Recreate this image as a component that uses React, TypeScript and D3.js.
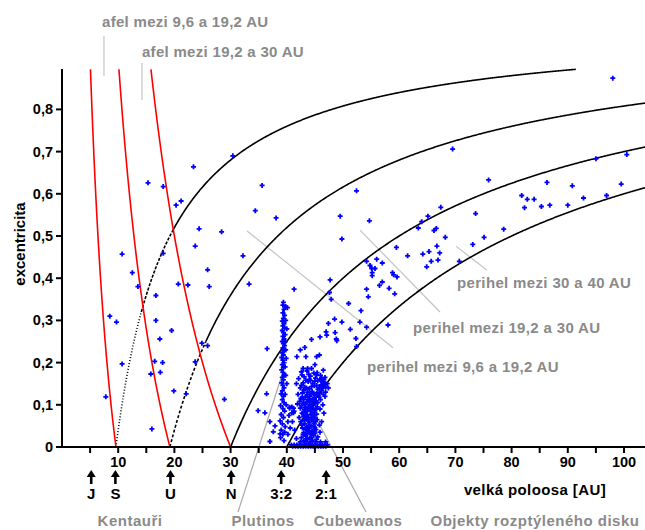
import React from 'react';
import * as d3 from 'd3';

// ---------- data ----------
const xTickValues = [10, 20, 30, 40, 50, 60, 70, 80, 90, 100];
const xMinorTicks = [5, 15, 25, 35, 45, 55, 65, 75, 85, 95, 105];
const yTickValues = [0, 0.1, 0.2, 0.3, 0.4, 0.5, 0.6, 0.7, 0.8];
const yTickLabels = ['0', '0,1', '0,2', '0,3', '0,4', '0,5', '0,6', '0,7', '0,8'];

const perihelionLimits = [9.6, 19.2, 30, 40];
const aphelionLimits = [9.6, 19.2, 30];

const markerNames = ['J', 'S', 'U', 'N', '3:2', '2:1'];
const markerA = [5.2, 9.5, 19.3, 30.1, 39.0, 47.0];

const centaurs: [number, number][] = [
  [23.4, 0.664], [30.4, 0.690], [15.3, 0.626], [18.0, 0.617], [20.3, 0.573], [21.2, 0.583],
  [35.6, 0.620], [34.4, 0.560], [38.1, 0.543], [24.4, 0.517], [28.4, 0.510], [23.7, 0.476],
  [10.7, 0.457], [18.0, 0.459], [32.2, 0.453], [12.5, 0.413], [25.9, 0.420], [13.5, 0.380],
  [20.7, 0.386], [22.4, 0.384], [26.2, 0.380], [33.3, 0.386], [41.3, 0.374], [16.7, 0.359],
  [8.5, 0.310], [9.7, 0.296], [16.7, 0.300], [19.5, 0.276], [17.4, 0.256], [24.9, 0.246],
  [25.9, 0.240], [36.5, 0.233], [10.7, 0.197], [16.5, 0.203], [17.9, 0.200], [23.7, 0.202],
  [15.8, 0.173], [17.5, 0.177], [19.9, 0.133], [22.1, 0.126], [7.8, 0.119], [28.9, 0.113],
  [36.4, 0.126], [34.9, 0.086], [16.0, 0.043],
];

const scatteredDisk: [number, number][] = [
  [49.5, 0.547], [54.7, 0.536], [52.4, 0.607], [69.5, 0.706], [67.4, 0.568], [65.1, 0.547],
  [64.0, 0.534], [63.4, 0.519], [66.6, 0.518], [66.2, 0.513], [68.2, 0.497], [73.6, 0.553],
  [49.8, 0.493], [59.5, 0.473], [66.7, 0.476], [73.1, 0.480], [75.1, 0.497], [64.2, 0.457],
  [65.3, 0.463], [67.2, 0.460], [61.5, 0.453], [65.7, 0.440], [66.9, 0.443], [64.9, 0.427],
  [70.7, 0.440], [54.2, 0.440], [56.0, 0.445], [57.0, 0.436], [54.8, 0.430], [55.1, 0.423],
  [55.7, 0.423], [55.2, 0.413], [55.2, 0.406], [58.8, 0.413], [59.0, 0.408], [59.6, 0.403],
  [57.0, 0.391], [56.5, 0.383], [54.2, 0.374], [58.2, 0.376], [59.2, 0.363], [54.5, 0.356],
  [47.7, 0.396], [47.9, 0.350], [51.0, 0.340], [53.2, 0.323], [48.5, 0.303], [49.8, 0.296],
  [53.0, 0.296], [54.2, 0.284], [58.0, 0.289], [51.3, 0.279], [48.6, 0.271], [48.8, 0.256],
  [52.3, 0.257], [52.4, 0.238], [98.0, 0.874], [95.0, 0.683], [100.5, 0.693], [75.9, 0.633],
  [86.3, 0.627], [90.8, 0.619], [99.5, 0.623], [81.8, 0.596], [82.8, 0.587], [84.0, 0.587],
  [82.3, 0.567], [85.3, 0.570], [86.8, 0.573], [90.0, 0.573], [92.8, 0.590], [96.9, 0.596],
  [78.6, 0.516], [47.6, 0.366],
];

const hotClassical: [number, number][] = [
  [47.4, 0.293], [47.0, 0.273], [47.1, 0.265], [48.9, 0.252], [44.4, 0.255], [45.9, 0.261],
  [42.4, 0.230], [43.2, 0.236], [45.3, 0.214], [45.8, 0.218], [41.8, 0.214], [43.4, 0.214],
  [42.7, 0.171], [45.3, 0.171], [46.2, 0.163], [44.0, 0.160], [46.8, 0.152], [36.1, 0.081],
  [37.0, 0.060], [37.9, 0.050], [37.6, 0.036], [38.8, 0.031], [37.0, 0.013], [40.5, 0.094],
  [41.2, 0.092], [40.9, 0.081],
];

const plutinos: [number, number][] = [
  [39.4, 0.343], [39.3, 0.336], [39.8, 0.333], [40.1, 0.330], [39.5, 0.326], [39.3, 0.318],
  [39.6, 0.312], [39.4, 0.305], [39.2, 0.298], [39.5, 0.292], [39.3, 0.287], [39.6, 0.282],
  [39.2, 0.276], [39.4, 0.271], [39.7, 0.266], [39.3, 0.262], [39.5, 0.256], [39.2, 0.250],
  [39.4, 0.245], [39.6, 0.240], [39.3, 0.235], [39.5, 0.229], [39.2, 0.223], [39.4, 0.218],
  [39.1, 0.212], [39.3, 0.206], [39.5, 0.200], [39.2, 0.195], [39.4, 0.189], [39.1, 0.183],
  [39.3, 0.177], [39.5, 0.171], [39.2, 0.165], [39.4, 0.159], [39.1, 0.152], [39.3, 0.146],
  [39.5, 0.140], [39.2, 0.133], [39.0, 0.126], [39.4, 0.120], [39.2, 0.112], [39.5, 0.105],
  [38.9, 0.098], [39.3, 0.091], [39.6, 0.085], [39.0, 0.077], [39.4, 0.070], [38.8, 0.062],
  [39.2, 0.055], [39.7, 0.048], [39.0, 0.040], [39.3, 0.030], [38.9, 0.022], [39.5, 0.015],
  [40.0, 0.280], [39.9, 0.210], [40.0, 0.150], [39.9, 0.100], [40.2, 0.060],
  [39.8, 0.300], [39.7, 0.250], [39.8, 0.230], [39.7, 0.190], [39.8, 0.170], [39.7, 0.125],
  [39.6, 0.035],
];

const cubewanos: [number, number][] = [
  [40.8, 0.005], [41.3, 0.005], [41.8, 0.005], [42.2, 0.005], [42.7, 0.005], [43.1, 0.005],
  [43.6, 0.005], [44.0, 0.005], [44.5, 0.005], [44.9, 0.005], [45.4, 0.005], [45.8, 0.005],
  [46.3, 0.005], [46.7, 0.005], [47.2, 0.005],
  [41.05, 0.002], [41.55, 0.002], [42.0, 0.002], [42.45, 0.002], [42.9, 0.002], [43.35, 0.002],
  [43.8, 0.002], [44.25, 0.002], [44.7, 0.002], [45.15, 0.002], [45.6, 0.002], [46.05, 0.002],
  [46.5, 0.002], [46.95, 0.002],
  [42.4, 0.012], [43.3, 0.012], [44.2, 0.012], [45.1, 0.012], [46.0, 0.012], [46.9, 0.012],
  [42.6, 0.022], [43.4, 0.026], [44.1, 0.021], [44.8, 0.028], [45.5, 0.024], [43.0, 0.034],
  [43.8, 0.038], [44.5, 0.036], [45.2, 0.041], [42.8, 0.045], [43.6, 0.048], [44.3, 0.050],
  [45.0, 0.046], [45.8, 0.052], [43.2, 0.055], [44.0, 0.058], [44.7, 0.061], [42.5, 0.060],
  [45.4, 0.065], [43.5, 0.066],
  [43.0, 0.015], [43.7, 0.018], [44.5, 0.016], [45.3, 0.018], [42.9, 0.030], [43.6, 0.031],
  [44.3, 0.030], [45.0, 0.033], [43.3, 0.042], [44.0, 0.044], [44.7, 0.040], [42.7, 0.052],
  [43.9, 0.050], [44.9, 0.055], [43.1, 0.063], [43.8, 0.062], [44.4, 0.066], [45.1, 0.060],
  [43.45, 0.020], [44.15, 0.034], [44.85, 0.048], [43.35, 0.072], [44.05, 0.090], [44.85, 0.082],
  [43.25, 0.101], [43.95, 0.110], [44.75, 0.126], [45.55, 0.137], [43.05, 0.135], [44.35, 0.096],
  [42.75, 0.118], [45.25, 0.090], [45.75, 0.118], [46.35, 0.140], [44.45, 0.022], [43.85, 0.006],
  [42.2, 0.070], [43.0, 0.072], [43.9, 0.070], [44.6, 0.074], [45.3, 0.078], [42.7, 0.080],
  [43.4, 0.083], [44.2, 0.085], [45.0, 0.088], [45.9, 0.090], [42.4, 0.092], [43.2, 0.094],
  [43.9, 0.097], [44.7, 0.099], [41.9, 0.102], [42.9, 0.104], [43.6, 0.107], [44.4, 0.108],
  [45.2, 0.110], [46.0, 0.112], [42.5, 0.115], [43.3, 0.118], [44.1, 0.120], [44.9, 0.117],
  [45.6, 0.122],
  [42.9, 0.078], [43.6, 0.076], [44.3, 0.078], [45.0, 0.070], [43.1, 0.088], [43.7, 0.090],
  [44.5, 0.092], [45.4, 0.095], [42.6, 0.098], [44.1, 0.101], [45.0, 0.103], [43.0, 0.112],
  [43.8, 0.113], [44.6, 0.114], [45.5, 0.105], [42.3, 0.108],
  [42.0, 0.125], [42.8, 0.128], [43.7, 0.130], [44.5, 0.132], [45.3, 0.128], [46.2, 0.134],
  [46.9, 0.130], [42.4, 0.140], [43.2, 0.142], [44.0, 0.138], [44.9, 0.145], [45.8, 0.141],
  [46.6, 0.146], [41.7, 0.150], [42.9, 0.152], [43.8, 0.155], [44.6, 0.151], [45.5, 0.157],
  [46.3, 0.154], [47.2, 0.150],
  [43.6, 0.124], [44.3, 0.126], [45.0, 0.124], [45.8, 0.127], [46.5, 0.125], [43.5, 0.140],
  [44.4, 0.143], [45.3, 0.146], [46.1, 0.147], [46.9, 0.142], [42.6, 0.146], [44.2, 0.158],
  [45.0, 0.156], [45.9, 0.160], [43.4, 0.158], [46.6, 0.160], [44.8, 0.175], [43.9, 0.172],
  [42.1, 0.162], [43.1, 0.166], [44.2, 0.168], [45.1, 0.163], [46.0, 0.170], [46.8, 0.165],
  [42.6, 0.178], [43.6, 0.180], [45.4, 0.176], [46.5, 0.182], [42.9, 0.186], [43.7, 0.186],
  [44.4, 0.186], [45.0, 0.195],
  [40.2, 0.030], [40.6, 0.045], [41.0, 0.060], [40.4, 0.075], [41.3, 0.085], [40.9, 0.095],
  [41.4, 0.040], [41.7, 0.020], [40.5, 0.092], [41.2, 0.081], [46.4, 0.100], [46.8, 0.120],
  [47.4, 0.140], [46.2, 0.060], [46.6, 0.080], [45.9, 0.035],
];

// annotation texts (Czech)
const afelLabels = ['afel mezi 9,6 a 19,2 AU', 'afel mezi 19,2 a 30 AU'];
const perihelLabels = ['perihel mezi 9,6 a 19,2 AU', 'perihel mezi 19,2 a 30 AU', 'perihel mezi 30 a 40 AU'];
const groupLabels = ['Kentauři', 'Plutinos', 'Cubewanos', 'Objekty rozptýleného disku'];

// ---------- layout (data-space anchors for annotations) ----------
const afelText = [[7.12, 0.995], [14.23, 0.924]];
const afelLines = [[[7.47, 0.974], [7.47, 0.879]], [[14.23, 0.910], [14.23, 0.822]]];
const perihelText = [[54.27, 0.178], [62.46, 0.270], [70.28, 0.377]];
const perihelLines = [
  [[32.92, 0.512], [58.9, 0.235]],
  [[53.02, 0.514], [67.26, 0.320]],
  [[70.1, 0.476], [75.62, 0.419]],
];
const groupTextA = [12.1, 35.77, 52.67, 84.16];
const groupLines = [
  [[31.32, -0.154], [38.97, 0.1635]],
  [[45.2, 0.0687], [54.09, -0.154]],
];

const FONT = "'Liberation Sans', Arial, Helvetica, sans-serif";
const GRAY_TEXT = '#8a8a8a';
const GRAY_LINE = '#c4c4c4';
const EMAX = 0.895;

// dash styles per perihelion curve: [eFrom, eTo, dasharray]
const periStyles: Record<string, [number, number, string | null][]> = {
  '9.6': [[0, 0.32, '1,2'], [0.32, 0.51, '3,1.5'], [0.51, EMAX, null]],
  '19.2': [[0, 0.25, '3,2'], [0.25, EMAX, null]],
  '30': [[0, EMAX, null]],
  '40': [[0, EMAX, null]],
};

export default function App() {
  const W = 645, H = 530;
  const x = d3.scaleLinear().domain([0, 100]).range([62, 624]);
  const y = d3.scaleLinear().domain([0, 0.8]).range([447, 109.4]);
  const line = d3.line<number[]>().x(d => x(d[0])).y(d => y(d[1]));

  const periSeg = (q: number, e0: number, e1: number) => {
    const a0 = q / (1 - e0);
    const a1 = Math.min(q / (1 - e1), 112);
    return d3.range(0, 601).map(i => {
      const a = a0 + (a1 - a0) * i / 600;
      return [a, 1 - q / a];
    });
  };
  const apheCurve = (Q: number) =>
    d3.range(0, 201).map(i => {
      const e = EMAX * i / 200;
      return [Q / (1 + e), e];
    });

  const cross = 'M-2.5,0H2.5M0,-2.5V2.5';
  const allPoints = [...centaurs, ...scatteredDisk, ...hotClassical, ...plutinos, ...cubewanos];

  return (
    <svg width={W} height={H} style={{ position: 'absolute', left: 0, top: 0, background: '#fff' }}
      fontFamily={FONT} fontWeight={700}>
      <defs>
        <clipPath id="plot">
          <rect x={62} y={60} width={W - 62} height={447 - 60 + 1} />
        </clipPath>
      </defs>
      <rect x={0} y={0} width={W} height={H} fill="#fff" />

      {/* annotation leader lines */}
      {afelLines.map((l, i) => (
        <path key={'al' + i} d={line(l) || ''} stroke={GRAY_LINE} strokeWidth={1.2} fill="none" />
      ))}
      {perihelLines.map((l, i) => (
        <path key={'pl' + i} d={line(l) || ''} stroke={GRAY_LINE} strokeWidth={1.2} fill="none" />
      ))}
      {groupLines.map((l, i) => (
        <path key={'gl' + i} d={line(l) || ''} stroke="#a8a8a8" strokeWidth={1.2} fill="none" />
      ))}

      {/* curves */}
      <g clipPath="url(#plot)">
        {perihelionLimits.map(q =>
          periStyles[String(q)].map(([e0, e1, dash], j) => (
            <path key={'q' + q + '-' + j} d={line(periSeg(q, e0, e1)) || ''} fill="none"
              stroke="#000" strokeWidth={1.6} strokeDasharray={dash || undefined} />
          ))
        )}
        {aphelionLimits.map(Q => (
          <path key={'Q' + Q} d={line(apheCurve(Q)) || ''} fill="none" stroke="#ff0000" strokeWidth={1.6} />
        ))}
      </g>

      {/* points */}
      <g stroke="#0000ff" strokeWidth={1.8} fill="none">
        {allPoints.map((p, i) => (
          <path key={'p' + i} d={cross} transform={`translate(${x(p[0]).toFixed(1)},${y(p[1]).toFixed(1)})`} />
        ))}
      </g>

      {/* axes */}
      <line x1={62} y1={69} x2={62} y2={448} stroke="#000" strokeWidth={2} />
      <line x1={56} y1={447} x2={W} y2={447} stroke="#000" strokeWidth={2} />
      {yTickValues.map((v, i) => (
        <g key={'yt' + i}>
          <line x1={56} x2={62} y1={y(v)} y2={y(v)} stroke="#000" strokeWidth={2} />
          <text x={53} y={y(v) + 5} textAnchor="end" fontSize={14.5} fill="#000">{yTickLabels[i]}</text>
        </g>
      ))}
      {xMinorTicks.concat(xTickValues).map((v, i) => (
        <line key={'xt' + i} x1={x(v)} x2={x(v)} y1={447} y2={453} stroke="#000" strokeWidth={2} />
      ))}
      {xTickValues.map((v, i) => (
        <text key={'xl' + i} x={x(v)} y={467} textAnchor="middle" fontSize={14.5} fill="#000">{v}</text>
      ))}

      <text transform={`translate(25,244) rotate(-90)`} textAnchor="middle" fontSize={15} fill="#000">excentricita</text>
      <text x={535} y={495} textAnchor="middle" fontSize={15} letterSpacing={0.4} fill="#000">velká poloosa [AU]</text>

      {/* arrows */}
      {markerNames.map((n, i) => {
        const cx = x(markerA[i]);
        return (
          <g key={'m' + i}>
            <path d={`M${cx},470 L${cx - 4.5},477 L${cx + 4.5},477 Z`} fill="#000" />
            <rect x={cx - 1.3} y={476} width={2.6} height={8} fill="#000" />
            <text x={cx} y={499} textAnchor="middle" fontSize={15} fill="#000">{n}</text>
          </g>
        );
      })}

      {/* annotation texts */}
      {afelLabels.map((t, i) => (
        <text key={'at' + i} x={x(afelText[i][0])} y={y(afelText[i][1])} fontSize={15} letterSpacing={0.3} fill={GRAY_TEXT}>{t}</text>
      ))}
      {perihelLabels.map((t, i) => (
        <text key={'pt' + i} x={x(perihelText[i][0])} y={y(perihelText[i][1])} fontSize={15} letterSpacing={0.35} fill={GRAY_TEXT}>{t}</text>
      ))}
      {groupLabels.map((t, i) => (
        <text key={'gt' + i} x={x(groupTextA[i])} y={526} textAnchor="middle" fontSize={15} letterSpacing={0.5} fill={GRAY_TEXT}>{t}</text>
      ))}
    </svg>
  );
}
